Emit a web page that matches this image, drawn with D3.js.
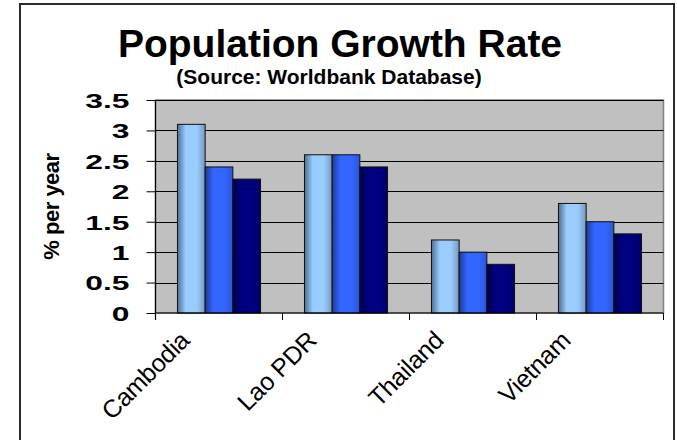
<!DOCTYPE html>
<html>
<head>
<meta charset="utf-8">
<script src="https://cdn.jsdelivr.net/npm/d3@7/dist/d3.min.js"></script>
<style>
  html, body { margin: 0; padding: 0; background: #fff; }
  svg { display: block; }
  text { font-family: "Liberation Sans", Arial, sans-serif; fill: #000; }
</style>
</head>
<body>
<svg id="chart" width="677" height="440"></svg>
<script>
// Population growth rate, % per year, three periods per country
const categories = ["Cambodia", "Lao PDR", "Thailand", "Vietnam"];
const seriesA = [3.1, 2.6, 1.2, 1.8];
const seriesB = [2.4, 2.6, 1.0, 1.5];
const seriesC = [2.2, 2.4, 0.8, 1.3];
const seriesKeys = ["A", "B", "C"];
const yTicks = [0, 0.5, 1, 1.5, 2, 2.5, 3, 3.5];
const yTickLabels = ["0", "0.5", "1", "1.5", "2", "2.5", "3", "3.5"];

const seriesValues = { A: seriesA, B: seriesB, C: seriesC };
const rows = categories.map((c, i) => ({
  category: c,
  values: seriesKeys.map(k => ({ key: k, value: seriesValues[k][i] }))
}));

// Value-axis numbers are set in a widened bold face
const TICK_SX = 1.55;

const svg = d3.select("#chart");
const plot = { left: 155.5, right: 663.5, top: 100, bottom: 313 };

// Bar shading: dark left edge, flat body, slightly dark right edge
const shades = {
  A: ["#4f6f8f", "#99ccff", "#99ccff", "#7898bd"],
  B: ["#1e3a99", "#3366ff", "#3366ff", "#2a56d6"],
  C: ["#00004a", "#000080", "#000080", "#000068"]
};
const defs = svg.append("defs");
seriesKeys.forEach(k => {
  const g = defs.append("linearGradient").attr("id", "grad" + k)
    .attr("x1", "0%").attr("x2", "100%").attr("y1", "0%").attr("y2", "0%");
  [0, 0.3, 0.7, 1].forEach((o, i) =>
    g.append("stop").attr("offset", o).attr("stop-color", shades[k][i]));
});

// Chart frame
svg.append("rect")
  .attr("x", 20).attr("y", 4).attr("width", 654).attr("height", 470)
  .attr("fill", "#fff").attr("stroke", "#2b2b2b").attr("stroke-width", 2);

// Scales
const x0 = d3.scaleBand().domain(categories).range([plot.left, plot.right]).padding(0);
const x1 = d3.scaleBand().domain(seriesKeys)
  .range([x0.bandwidth() * 0.173, x0.bandwidth() * 0.827]).padding(0);
const y = d3.scaleLinear().domain([0, 3.5]).range([plot.bottom, plot.top]);

// Plot area
svg.append("rect")
  .attr("x", plot.left).attr("y", plot.top)
  .attr("width", plot.right - plot.left).attr("height", plot.bottom - plot.top)
  .attr("fill", "#c0c0c0").attr("stroke", "#808080").attr("stroke-width", 1.5);

// Gridlines
svg.append("g").selectAll("line").data(yTicks.filter(t => t > 0)).join("line")
  .attr("x1", plot.left).attr("x2", plot.right)
  .attr("y1", d => Math.round(y(d)) + 0.5).attr("y2", d => Math.round(y(d)) + 0.5)
  .attr("stroke", "#000").attr("stroke-width", 1);

// Bars
const groups = svg.append("g").selectAll("g").data(rows).join("g")
  .attr("transform", d => `translate(${x0(d.category)},0)`);
groups.selectAll("rect").data(d => d.values).join("rect")
  .attr("x", d => x1(d.key))
  .attr("y", d => y(d.value))
  .attr("width", x1.bandwidth())
  .attr("height", d => y(0) - y(d.value))
  .attr("fill", d => `url(#grad${d.key})`)
  .attr("stroke", "#111").attr("stroke-width", 1);

// Y axis
const yAxis = svg.append("g").attr("transform", `translate(${plot.left},0)`)
  .call(d3.axisLeft(y).tickValues(yTicks)
    .tickFormat((d, i) => yTickLabels[i]).tickSize(9).tickPadding(0));
yAxis.select(".domain").attr("stroke", "#000").attr("stroke-width", 1.2)
  .attr("d", `M0,${plot.top}V${plot.bottom + 7}`);
yAxis.selectAll(".tick line").attr("stroke", "#000");
yAxis.selectAll(".tick text")
  .attr("x", -26 / TICK_SX).attr("dy", "0.36em")
  .attr("transform", `scale(${TICK_SX},1)`)
  .style("font-size", "20.5px").style("font-weight", "bold")
  .attr("text-anchor", "end");

// X axis: line and category boundary ticks
const xAxis = svg.append("g").attr("transform", `translate(0,${plot.bottom})`)
  .call(d3.axisBottom(x0).tickSize(0).tickPadding(0));
xAxis.select(".domain").attr("stroke", "#000").attr("stroke-width", 1.2)
  .attr("d", `M${plot.left},0H${plot.right}`);
const edges = categories.map(c => x0(c)).concat([x0.range()[1]]);
xAxis.append("g").selectAll("line").data(edges).join("line")
  .attr("x1", d => d).attr("x2", d => d).attr("y1", 0).attr("y2", 7)
  .attr("stroke", "#000");
xAxis.selectAll(".tick text")
  .attr("y", 0).attr("dy", 0)
  .attr("transform", "translate(-28,29) rotate(-45)")
  .attr("text-anchor", "end")
  .style("font-size", "25px").style("font-weight", "normal")
  .style("letter-spacing", "-0.3px");

// Titles
svg.append("text")
  .attr("x", 340).attr("y", 57)
  .attr("text-anchor", "middle")
  .style("font-size", "39px").style("font-weight", "bold")
  .text("Population Growth Rate");
svg.append("text")
  .attr("x", 329).attr("y", 84)
  .attr("text-anchor", "middle")
  .style("font-size", "21px").style("font-weight", "bold")
  .text("(Source: Worldbank Database)");
svg.append("text")
  .attr("transform", `translate(59,${(plot.top + plot.bottom) / 2}) rotate(-90)`)
  .attr("text-anchor", "middle")
  .style("font-size", "22px").style("font-weight", "bold")
  .style("letter-spacing", "-0.5px")
  .text("% per year");
</script>
</body>
</html>
